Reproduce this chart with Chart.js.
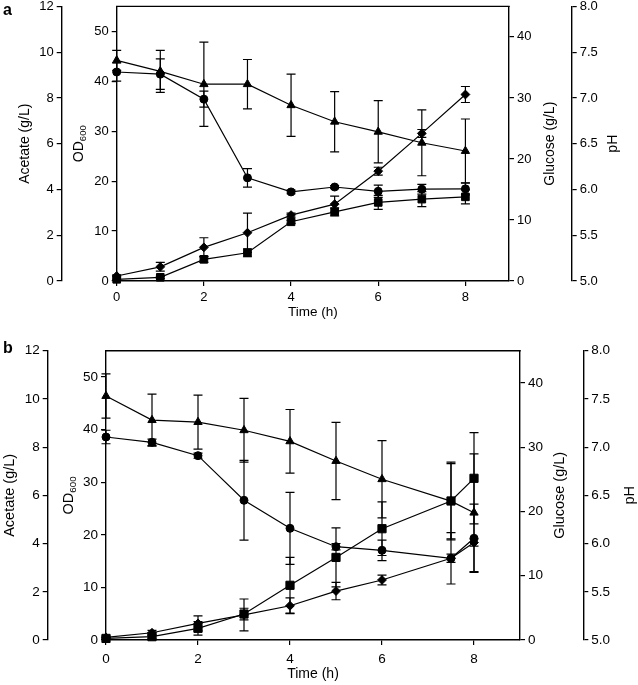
<!DOCTYPE html>
<html><head><meta charset="utf-8">
<script src="https://cdn.jsdelivr.net/npm/chart.js@4.4.1/dist/chart.umd.min.js"></script>
<style>
html,body{margin:0;padding:0;background:#fff;}
#wrap{position:relative;width:638px;height:685px;background:#fff;}
canvas{position:absolute;left:0;top:0;}
</style></head><body>
<div id="wrap"><canvas id="ca" width="638" height="685"></canvas><canvas id="cb" width="638" height="685"></canvas></div>
<script>
// ---------- Panel a data ----------
const timeA = [0, 1, 2, 3, 4, 5, 6, 7, 8];
const phA = [7.41, 7.29, 7.15, 7.15, 6.92, 6.74, 6.63, 6.51, 6.42];
const phErrA = [0.11, 0.23, 0.46, 0.27, 0.34, 0.33, 0.34, 0.36, 0.35];
const glucoseA = [34.25, 33.9, 29.8, 16.9, 14.6, 15.4, 14.7, 15.05, 15.1];
const glucoseErrA = [1.5, 2.5, 1.3, 1.5, 0.3, 0.25, 1.0, 0.8, 1.0];
const acetateA = [0.22, 0.62, 1.47, 2.11, 2.88, 3.36, 4.8, 6.45, 8.15];
const acetateErrA = [0.05, 0.19, 0.42, 0.86, 0.09, 0.35, 0.17, 0.17, 0.35];
const odA = [0.34, 0.74, 4.34, 5.66, 11.86, 13.86, 15.74, 16.4, 16.86];
const odErrA = [0.1, 0.2, 0.6, 0.8, 0.3, 0.8, 1.4, 1.5, 1.4];

// ---------- Panel b data ----------
const timeB = [0, 1, 2, 3, 4, 5, 6, 7.5, 8];
const phB = [7.53, 7.28, 7.26, 7.175, 7.06, 6.856, 6.667, 6.44, 6.32];
const phErrB = [0.23, 0.27, 0.28, 0.33, 0.33, 0.40, 0.40, 0.39, 0.61];
const glucoseB = [31.58, 30.75, 28.67, 21.73, 17.37, 14.51, 13.95, 12.71, 15.82];
const glucoseErrB = [1.05, 0.5, 0.4, 6.2, 5.6, 0.5, 1.6, 4.0, 5.3];
const acetateB = [0.11, 0.30, 0.69, 1.04, 1.42, 2.03, 2.49, 3.39, 4.04];
const acetateErrB = [0.05, 0.1, 0.31, 0.66, 0.33, 0.36, 0.2, 0.17, 0.15];
const odB = [0.3, 0.63, 2.22, 4.94, 10.4, 15.7, 21.16, 26.43, 30.74];
const odErrB = [0.2, 0.3, 1.3, 1.1, 5.3, 5.6, 5.1, 7.4, 8.67];

// ---------- Tick labels ----------
const timeTicks = [0, 2, 4, 6, 8];
const acetateTicks = [0, 2, 4, 6, 8, 10, 12];
const odTicks = [0, 10, 20, 30, 40, 50];
const glucoseTicks = [0, 10, 20, 30, 40];
const phTicks = [5.0, 5.5, 6.0, 6.5, 7.0, 7.5, 8.0];

const FONT = "'Liberation Sans', Arial, Helvetica, sans-serif";
Chart.defaults.font.family = FONT;
Chart.defaults.color = '#000';
const AXW = 1.4;

const errorBars = {
  id: 'errorBars',
  beforeDatasetsDraw(chart) {
    const ctx = chart.ctx;
    chart.data.datasets.forEach((ds, i) => {
      const meta = chart.getDatasetMeta(i);
      const ys = chart.scales[ds.yAxisID];
      ctx.save();
      ctx.strokeStyle = '#000';
      ctx.lineWidth = 1.2;
      meta.data.forEach((pt, j) => {
        const v = ds.data[j].y, e = ds.errors[j];
        const yt = ys.getPixelForValue(v + e), yb = ys.getPixelForValue(v - e);
        const x = pt.x, cw = 4.5;
        ctx.beginPath();
        ctx.moveTo(x, yt); ctx.lineTo(x, yb);
        ctx.moveTo(x - cw, yt); ctx.lineTo(x + cw, yt);
        ctx.moveTo(x - cw, yb); ctx.lineTo(x + cw, yb);
        ctx.stroke();
      });
      ctx.restore();
    });
  }
};

function upText(ctx, text, x, y, size) {
  ctx.save();
  ctx.translate(x, y);
  ctx.rotate(-Math.PI / 2);
  ctx.font = size + 'px ' + FONT;
  ctx.textAlign = 'center';
  ctx.textBaseline = 'middle';
  ctx.fillText(text, 0, 0);
  ctx.restore();
}

const frame = {
  id: 'frame',
  afterDraw(chart, args, o) {
    const ctx = chart.ctx, a = chart.chartArea;
    const cy = (a.top + a.bottom) / 2;
    ctx.save();
    ctx.strokeStyle = '#000';
    ctx.lineWidth = AXW;
    ctx.beginPath(); ctx.moveTo(a.left - AXW / 2, a.top); ctx.lineTo(a.right + AXW / 2, a.top); ctx.stroke();
    ctx.fillStyle = '#000';
    ctx.font = 'bold ' + o.letterSize + 'px ' + FONT;
    ctx.textBaseline = 'alphabetic';
    ctx.textAlign = 'left';
    ctx.fillText(o.letter, o.lx, o.ly);
    // right-hand titles read bottom-to-top
    upText(ctx, 'Glucose (g/L)', o.gluX, cy, o.titleSize);
    upText(ctx, 'pH', o.phX, cy, o.titleSize);
    // OD600 title with subscript
    const F = o.titleSize;
    ctx.translate(o.odX, cy);
    ctx.rotate(-Math.PI / 2);
    ctx.font = F + 'px ' + FONT;
    const w1 = ctx.measureText('OD').width;
    ctx.font = (F * 0.68) + 'px ' + FONT;
    const w2 = ctx.measureText('600').width;
    const start = -(w1 + w2) / 2;
    ctx.textBaseline = 'alphabetic';
    ctx.textAlign = 'left';
    ctx.font = F + 'px ' + FONT;
    ctx.fillText('OD', start, F * 0.36);
    ctx.font = (F * 0.68) + 'px ' + FONT;
    ctx.fillText('600', start + w1, F * 0.36 + F * 0.22);
    ctx.restore();
  }
};

function yScale(pos, weight, min, max, tickVals, width, tickSize, title, titleSize, titlePad, fmt) {
  return {
    type: 'linear', position: pos, weight: weight, min: min, max: max,
    border: { display: true, color: '#000', width: AXW },
    grid: { display: true, drawOnChartArea: false, drawTicks: true, tickLength: 5, color: '#000', lineWidth: 1.2 },
    ticks: { color: '#000', font: { size: tickSize }, padding: 3, autoSkip: false, callback: fmt || (v => String(v)) },
    title: title ? { display: true, text: title, color: '#000', font: { size: titleSize }, padding: { top: titlePad, bottom: 0 } } : { display: false },
    afterBuildTicks: s => { s.ticks = tickVals.map(v => ({ value: v })); },
    afterFit: s => { s.width = width; s.paddingTop = 0; s.paddingBottom = 0; }
  };
}

function series(xs, ys, errs, axis, style, r) {
  return {
    data: xs.map((x, i) => ({ x: x, y: ys[i] })), errors: errs, yAxisID: axis,
    borderColor: '#000', backgroundColor: '#000', borderWidth: 1.2,
    pointStyle: style, pointRadius: r, pointBackgroundColor: '#000', pointBorderColor: '#000', pointBorderWidth: 1,
    fill: false, tension: 0, clip: false
  };
}

function makeChart(id, d, L) {
  return new Chart(document.getElementById(id), {
    type: 'line',
    data: {
      datasets: [
        series(d.t, d.ph, d.phErr, 'ph', 'triangle', 4.8),
        series(d.t, d.glu, d.gluErr, 'glu', 'circle', 4),
        series(d.t, d.ace, d.aceErr, 'ace', 'rectRot', 4.4),
        series(d.t, d.od, d.odErr, 'od', 'rect', L.sqR)
      ]
    },
    options: {
      responsive: false, animation: false, devicePixelRatio: 1, events: [],
      layout: { padding: L.pad },
      plugins: { legend: { display: false }, tooltip: { enabled: false },
        frame: { letter: L.letter, lx: L.lx, ly: L.ly, letterSize: L.letterSize, odX: L.odX, gluX: L.gluX, phX: L.phX, titleSize: L.titleSize } },
      scales: {
        x: {
          type: 'linear', position: 'bottom', min: 0, max: 9, weight: 0,
          border: { display: true, color: '#000', width: AXW },
          grid: { display: true, drawOnChartArea: false, drawTicks: true, tickLength: 5, color: '#000', lineWidth: 1.2 },
          ticks: { color: '#000', font: { size: L.tickSize }, padding: L.xTickPad, autoSkip: false, maxRotation: 0 },
          title: { display: true, text: 'Time (h)', color: '#000', font: { size: L.timeSize }, padding: { top: 0, bottom: L.timePad } },
          afterBuildTicks: s => { s.ticks = timeTicks.map(v => ({ value: v })); },
          afterFit: s => { s.height = L.xH; s.paddingLeft = 0; s.paddingRight = 0; }
        },
        ace: yScale('left', 2, 0, 12, acetateTicks, L.aceW, L.tickSize, 'Acetate (g/L)', L.titleSize, 0),
        od: yScale('left', 1, 0, 55, odTicks, L.odW, L.tickSize, null),
        glu: yScale('right', 1, 0, 45, glucoseTicks, L.gluW, L.tickSize, null),
        ph: yScale('right', 2, 5, 8, phTicks, L.phW, L.tickSize, null, 0, 0, v => v.toFixed(1))
      }
    },
    plugins: [errorBars, frame]
  });
}

makeChart('ca',
  { t: timeA, ph: phA, phErr: phErrA, glu: glucoseA, gluErr: glucoseErrA, ace: acetateA, aceErr: acetateErrA, od: odA, odErr: odErrA },
  { pad: { left: 16.6, right: 16.3, top: 6, bottom: 362 }, aceW: 45.1, odW: 55, gluW: 62.7, phW: 50, xH: 42,
    tickSize: 13, titleSize: 14, timeSize: 13.5, timePad: 2.5, xTickPad: 4, sqR: 5.4,
    letter: 'a', lx: 3, ly: 15, letterSize: 16, odX: 78, gluX: 550, phX: 613.5 });

makeChart('cb',
  { t: timeB, ph: phB, phErr: phErrB, glu: glucoseB, gluErr: glucoseErrB, ace: acetateB, aceErr: acetateErrB, od: odB, odErr: odErrB },
  { pad: { left: 1.3, right: 0, top: 350.7, bottom: 0 }, aceW: 46.4, odW: 58.3, gluW: 63.3, phW: 54.7, xH: 45,
    tickSize: 13.5, titleSize: 14.5, timeSize: 14, timePad: 2.4, xTickPad: 6, sqR: 5.8,
    letter: 'b', lx: 3, ly: 353, letterSize: 16, odX: 68, gluX: 560, phX: 630 });
</script>
</body></html>
